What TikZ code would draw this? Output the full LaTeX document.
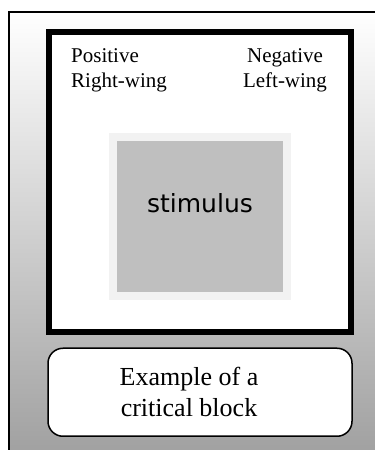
\documentclass[tikz,border=0pt]{standalone}
\usepackage{fontspec}
\setmainfont{Liberation Serif}
\newfontfamily\stimfont{DejaVu Sans}
\usepackage{xcolor}
\usepackage{tikz}
\usetikzlibrary{positioning,calc}

\begin{document}
\begin{tikzpicture}[
  x=1pt, y=1pt,
  frame/.style={draw, line width=6pt, fill=white, inner sep=0pt,
                minimum width=302pt, minimum height=300pt},
  lbl/.style={inner sep=0pt, font=\fontsize{21}{25}\selectfont},
  stimbox/.style={draw=black!5, line width=8pt, fill=black!25, inner sep=0pt,
                  minimum width=174pt, minimum height=159pt,
                  font=\stimfont\fontsize{25}{29}\selectfont,
                  text height=10pt, text depth=17pt},
  capbox/.style={draw, line width=1.5pt, fill=white, rounded corners=15pt,
                 minimum width=304pt, minimum height=88pt, inner sep=0pt},
  captxt/.style={align=center, inner sep=0pt,
                 font=\fontsize{26}{31}\selectfont},
  node distance=12.5pt
]
  \useasboundingbox (0,0) rectangle (375,450);
  % shaded page behind everything
  \draw[line width=2pt, top color=white, bottom color=black!38]
    (9.3,438) rectangle (395,-15);

  \node[frame] (frame) at (200,268) {};
  % base = baseline of the second line
  \node[lbl, anchor=base west, align=left] (pos)
    at ($(frame.north west)+(25,-59)$) {Positive\\Right-wing};
  \node[lbl, anchor=base, align=center] (neg)
    at ($(frame.north west)+(239,-59)$) {Negative\\Left-wing};
  \node[stimbox] (stim) at ($(frame.center)+(0,-34.5)$) {stimulus};

  \node[capbox, below=of frame] (caption) {};
  \node[captxt] (captext) at ($(caption.center)+(-11,0)$)
    {Example of a\\critical block};
\end{tikzpicture}
\end{document}
